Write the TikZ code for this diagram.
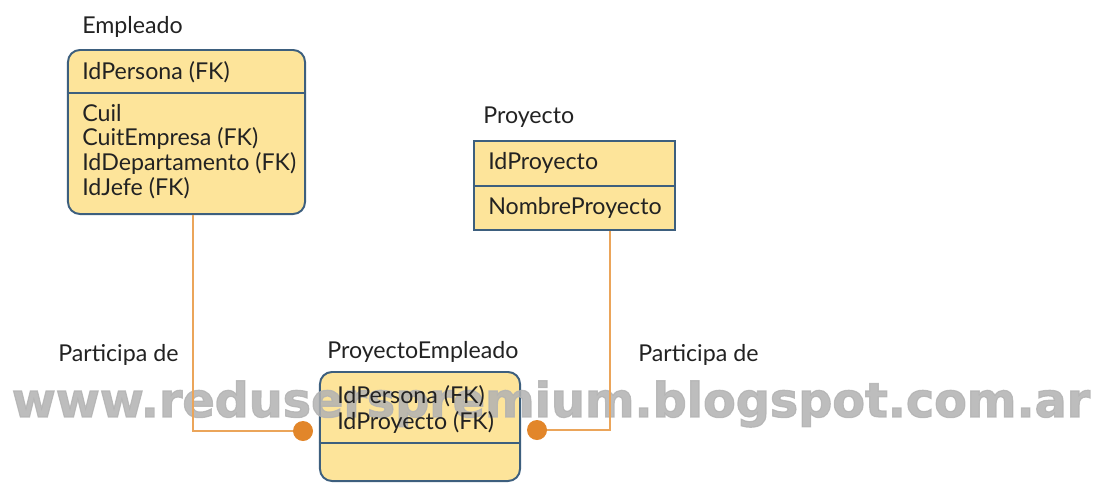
\documentclass[tikz,border=0pt]{standalone}
\usepackage{fontspec}
\setmainfont{Lato}
\newfontfamily\wmfont[FakeBold=2.5]{DejaVu Sans Bold}
\usepackage{graphicx}
\definecolor{entfill}{HTML}{FDE49A}
\definecolor{entline}{HTML}{3D5F7E}
\definecolor{relline}{HTML}{EBA55A}
\definecolor{reldot}{HTML}{E2862A}
\definecolor{wmgray}{HTML}{B2B2B2}
\definecolor{txt}{HTML}{222222}

\begin{document}
\begin{tikzpicture}[x=0.025cm,y=-0.025cm,
  every node/.style={font=\fontsize{16.5}{19}\selectfont,text=txt,inner sep=0pt},
  entbox/.style={draw=entline,fill=entfill,line width=1.4pt},
  rel/.style={draw=relline,line width=1.3pt},
  reldot/.style={circle,fill=reldot,minimum size=0.5cm}]
\useasboundingbox (0,0) rectangle (1101,483);
% entities
\node[entbox,rounded corners=0.3cm,minimum width=5.925cm,minimum height=4.1cm] (emp) at (186.5,132) {};
\node[entbox,minimum width=5.025cm,minimum height=2.225cm] (pro) at (574.5,185.5) {};
\node[entbox,rounded corners=0.3cm,minimum width=5cm,minimum height=2.725cm] (pe) at (420,426.5) {};
\draw[entline,line width=1.4pt] (emp.west |- 0,93) -- (emp.east |- 0,93);
\draw[entline,line width=1.4pt] (pro.west |- 0,186) -- (pro.east |- 0,186);
\draw[entline,line width=1.4pt] (pe.west |- 0,443) -- (pe.east |- 0,443);
% watermark
\node[opacity=0.85] (wm) at (551,404) {\resizebox{26.95cm}{!}{\wmfont\color{wmgray}www.reduserspremium.blogspot.com.ar}};
% relationships
\node[reldot] (d1) at (303,431) {};
\node[reldot] (d2) at (537,430) {};
\draw[rel] ([xshift=0.1625cm]emp.south) |- (d1);
\draw[rel] ([xshift=0.8875cm]pro.south) |- (d2);
\node[anchor=west] (r1) at (58,355) {Participa de};
\node[anchor=west] (r2) at (638,355) {Participa de};
% titles
\node[anchor=west] (emp-t) at (82,27) {Empleado};
\node[anchor=west] (pro-t) at (483,117) {Proyecto};
\node[anchor=west] (pe-t) at (327,352) {ProyectoEmpleado};
% attributes
\node[anchor=west] (emp-k) at (82,72) {IdPersona (FK)};
\foreach \t [count=\i] in {Cuil,CuitEmpresa (FK),IdDepartamento (FK),IdJefe (FK)}
  \node[anchor=west] (emp-\i) at (82,88+25*\i) {\t};
\node[anchor=west] (pro-k) at (488,163) {IdProyecto};
\node[anchor=west] (pro-1) at (488,208) {NombreProyecto};
\node[anchor=west] (pe-1) at (337,396) {IdPersona (FK)};
\node[anchor=west] (pe-2) at (337,422) {IdProyecto (FK)};
\end{tikzpicture}
\end{document}
